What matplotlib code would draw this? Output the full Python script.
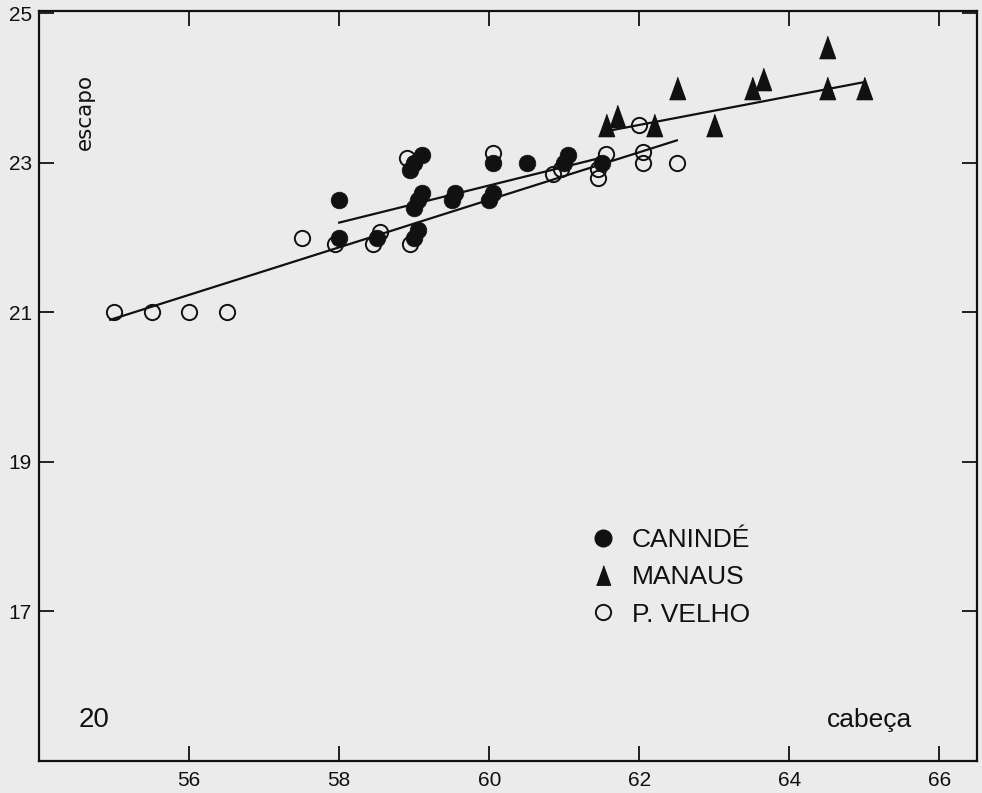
import matplotlib.pyplot as plt
from matplotlib.lines import Line2D

# === data (cabeça vs escapo) ===
caninde_x = [58.0, 58.0, 58.5, 59.0, 59.05, 59.0, 59.05, 59.1, 58.95, 59.0, 59.1,
             59.5, 59.55, 60.0, 60.05, 60.05, 60.5, 61.0, 61.05, 61.5]
caninde_y = [22.5, 22.0, 22.0, 22.0, 22.1, 22.4, 22.5, 22.6, 22.9, 23.0, 23.1,
             22.5, 22.6, 22.5, 22.6, 23.0, 23.0, 23.0, 23.1, 23.0]

manaus_x = [61.55, 61.7, 62.2, 62.5, 63.0, 63.5, 63.65, 64.5, 64.5, 65.0]
manaus_y = [23.5, 23.62, 23.5, 24.0, 23.5, 24.0, 24.12, 24.55, 24.0, 24.0]

velho_x = [55.0, 55.5, 56.0, 56.5, 57.5, 57.95, 58.45, 58.55, 58.95, 58.9,
           60.05, 60.85, 60.95, 61.45, 61.45, 61.55, 62.05, 62.05, 62.5, 62.0]
velho_y = [21.0, 21.0, 21.0, 21.0, 22.0, 21.92, 21.92, 22.08, 21.92, 23.07,
           23.13, 22.85, 22.92, 22.8, 22.92, 23.12, 23.0, 23.15, 23.0, 23.5]

# regression lines as drawn (end points)
caninde_fit_x = [58.0, 61.5]
caninde_fit_y = [22.2, 23.07]
velho_fit_x = [54.95, 62.5]
velho_fit_y = [20.9, 23.3]
manaus_fit_x = [61.6, 65.0]
manaus_fit_y = [23.43, 24.08]

x_ticks = [56, 58, 60, 62, 64, 66]
y_ticks = [17, 19, 21, 23, 25]

paper = '#ebebeb'
ink = '#111111'
tri = [(-0.72, -1.0), (0.72, -1.0), (0.0, 1.0)]

plt.rcParams['font.family'] = ['Liberation Sans', 'DejaVu Sans']

fig = plt.figure(figsize=(9.82, 7.93), dpi=100, facecolor=paper)
ax = fig.add_axes([0.0397, 0.0404, 0.9552, 0.9457], facecolor=paper)

ax.plot(velho_fit_x, velho_fit_y, color=ink, lw=1.6, zorder=2)
ax.plot(caninde_fit_x, caninde_fit_y, color=ink, lw=1.6, zorder=2)
ax.plot(manaus_fit_x, manaus_fit_y, color=ink, lw=1.6, zorder=2)

ax.plot(velho_x, velho_y, 'o', ms=11, mfc='none', mec=ink, mew=1.4, zorder=3)
ax.plot(caninde_x, caninde_y, 'o', ms=12, mfc=ink, mec=ink, mew=0.5, zorder=4)
ax.plot(manaus_x, manaus_y, marker=tri, ls='none', ms=16, mfc=ink, mec=ink, zorder=4)

ax.set_xlim(54, 66.5)
ax.set_ylim(15, 25.03)
ax.set_xticks(x_ticks)
ax.set_yticks(y_ticks)
ax.tick_params(direction='in', length=11, width=1.3, top=True, right=True,
               labelsize=15, colors=ink)
ax.tick_params(axis='x', pad=7)
ax.tick_params(axis='y', pad=5)
for s in ax.spines.values():
    s.set_linewidth(1.6)
    s.set_color(ink)

ax.text(0.049, 0.865, 'escapo', transform=ax.transAxes, rotation=90,
        fontsize=15.5, family=['Liberation Sans Narrow', 'DejaVu Sans'],
        ha='center', va='center', color=ink)
ax.text(0.042, 0.055, '20', transform=ax.transAxes, fontsize=20,
        ha='left', va='center', color=ink)
ax.text(0.84, 0.055, 'cabeça', transform=ax.transAxes, fontsize=19,
        ha='left', va='center', color=ink)

handles = [
    Line2D([], [], marker='o', ls='none', ms=12, mfc=ink, mec=ink),
    Line2D([], [], marker=tri, ls='none', ms=14, mfc=ink, mec=ink),
    Line2D([], [], marker='o', ls='none', ms=11, mfc='none', mec=ink, mew=1.4),
]
ax.legend(handles, ['CANINDÉ', 'MANAUS', 'P. VELHO'], loc='upper left',
          bbox_to_anchor=(0.573, 0.328), frameon=False, fontsize=19,
          handlelength=1.0, handletextpad=0.6, labelspacing=0.5,
          borderpad=0.0, labelcolor=ink)

plt.savefig('out.png', dpi=100, facecolor=paper)
